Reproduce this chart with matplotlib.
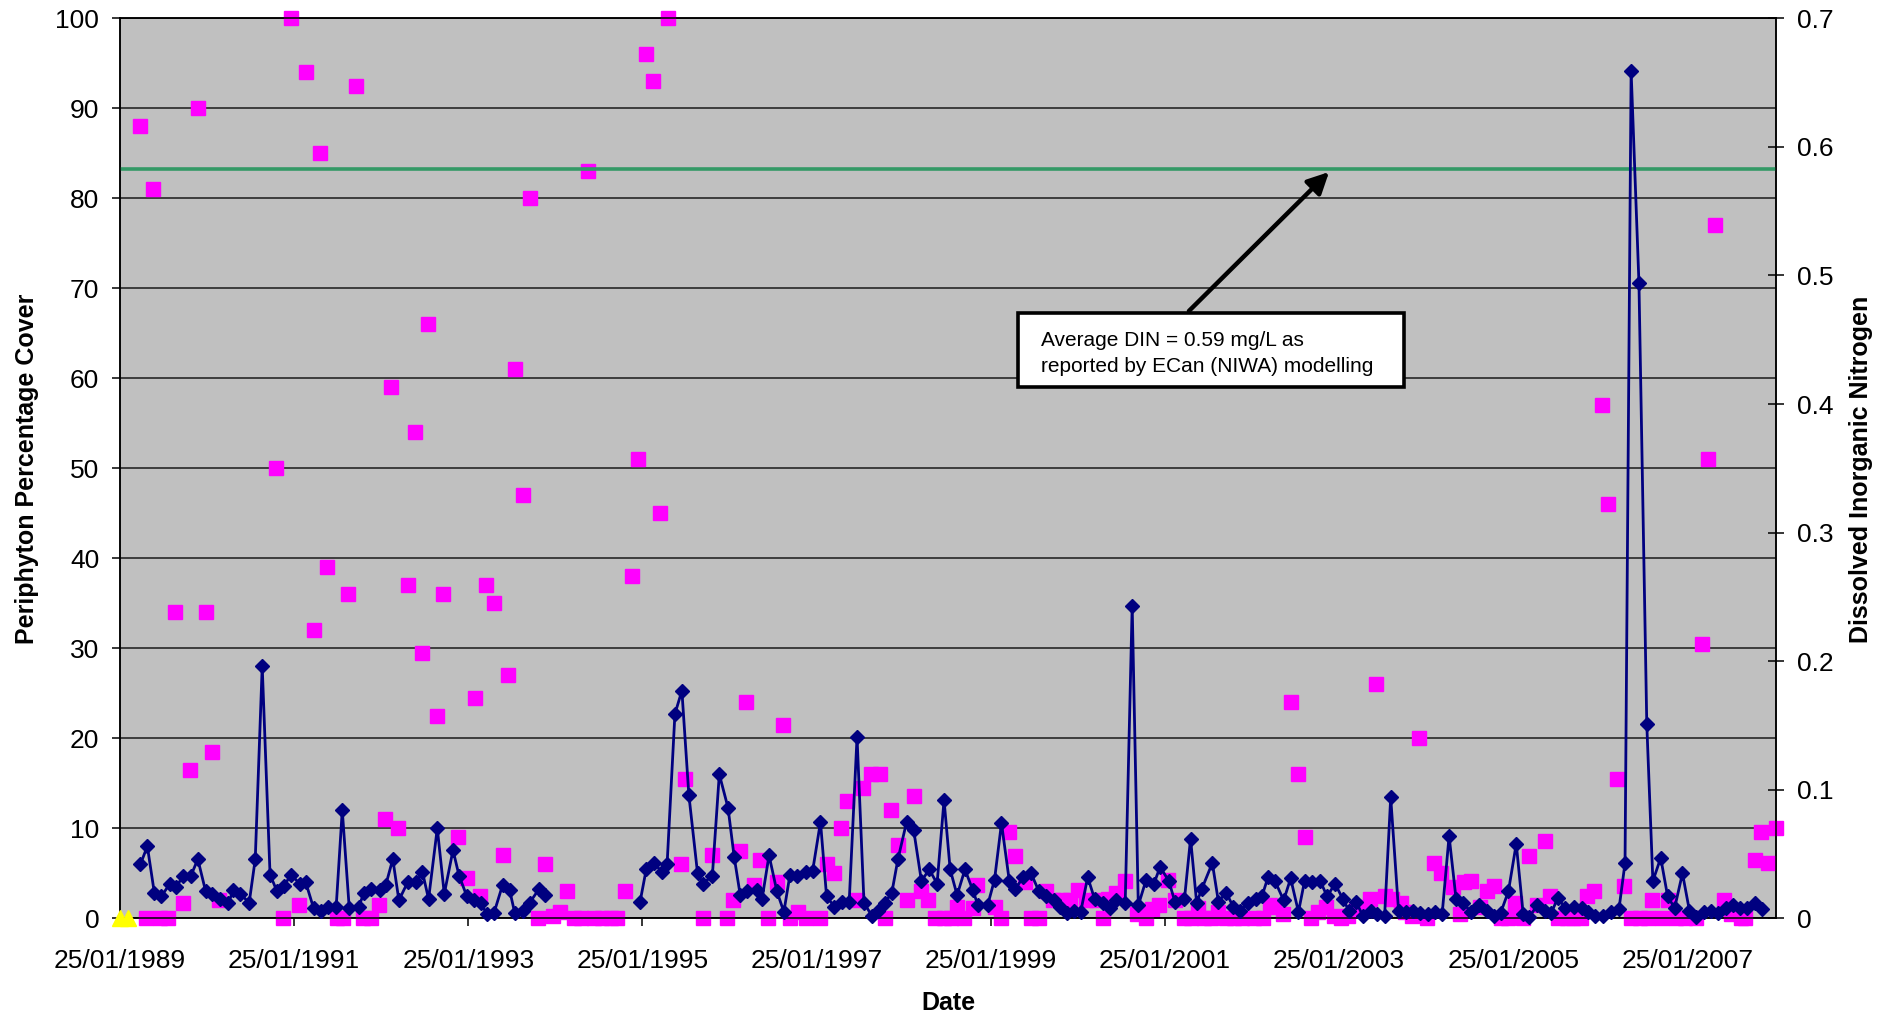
import numpy as np
import pandas as pd
import matplotlib
matplotlib.use("Agg")
import matplotlib.pyplot as plt
import matplotlib.dates as mdates
from matplotlib.patches import Rectangle
from matplotlib.ticker import FuncFormatter

plt.rcParams['font.family'] = ['Liberation Sans', 'DejaVu Sans']

# Dissolved inorganic nitrogen (mg/L), sample dates as decimal years
din_years = [
    1989.30, 1989.38, 1989.46, 1989.54, 1989.64, 1989.71, 1989.79, 1989.88, 1989.96, 1990.05,
    1990.12, 1990.21, 1990.31, 1990.37, 1990.45, 1990.55, 1990.62, 1990.70, 1990.79, 1990.87,
    1990.95, 1991.03, 1991.13, 1991.20, 1991.29, 1991.37, 1991.46, 1991.55, 1991.62, 1991.70,
    1991.81, 1991.87, 1991.95, 1992.05, 1992.12, 1992.20, 1992.27, 1992.37, 1992.47, 1992.54,
    1992.61, 1992.71, 1992.79, 1992.89, 1992.96, 1993.05, 1993.13, 1993.21, 1993.28, 1993.36,
    1993.46, 1993.54, 1993.60, 1993.69, 1993.77, 1993.88, 1993.95,
    1995.04, 1995.11, 1995.20, 1995.29, 1995.35, 1995.44, 1995.52, 1995.60, 1995.70, 1995.76,
    1995.87, 1995.95, 1996.05, 1996.12, 1996.19, 1996.27, 1996.38, 1996.44, 1996.52, 1996.61,
    1996.69, 1996.76, 1996.84, 1996.94, 1997.02, 1997.11, 1997.18, 1997.27, 1997.36, 1997.44,
    1997.53, 1997.61, 1997.70, 1997.77, 1997.85, 1997.93, 1998.00, 1998.10, 1998.18, 1998.27,
    1998.36, 1998.45, 1998.53, 1998.60, 1998.68, 1998.77, 1998.86, 1998.92, 1999.03, 1999.11,
    1999.19, 1999.28, 1999.35, 1999.44, 1999.53, 1999.62, 1999.70, 1999.79, 1999.86, 1999.94,
    2000.02, 2000.10, 2000.18, 2000.26, 2000.35, 2000.44, 2000.51, 2000.61, 2000.69, 2000.76,
    2000.85, 2000.94, 2001.01, 2001.11, 2001.18, 2001.29, 2001.36, 2001.43, 2001.49, 2001.61,
    2001.68, 2001.77, 2001.85, 2001.93, 2002.02, 2002.11, 2002.18, 2002.25, 2002.33, 2002.43,
    2002.51, 2002.60, 2002.67, 2002.75, 2002.85, 2002.93, 2003.02, 2003.11, 2003.18, 2003.26,
    2003.34, 2003.43, 2003.50, 2003.59, 2003.66, 2003.75, 2003.84, 2003.92, 2004.00, 2004.09,
    2004.17, 2004.25, 2004.33, 2004.41, 2004.49, 2004.58, 2004.67, 2004.76, 2004.84, 2004.92,
    2005.01, 2005.10, 2005.18, 2005.25, 2005.34, 2005.43, 2005.50, 2005.58, 2005.66, 2005.76,
    2005.85, 2005.92, 2006.01, 2006.10, 2006.19, 2006.28, 2006.35, 2006.42, 2006.51, 2006.60,
    2006.67, 2006.76, 2006.84, 2006.92, 2007.01, 2007.09, 2007.17, 2007.26, 2007.34, 2007.42,
    2007.51, 2007.59, 2007.67, 2007.75, 2007.84, 2007.92,
]
din_values = [
    0.042, 0.056, 0.020, 0.017, 0.027, 0.024, 0.033, 0.033, 0.046, 0.021,
    0.019, 0.015, 0.012, 0.022, 0.019, 0.012, 0.046, 0.196, 0.034, 0.021,
    0.025, 0.034, 0.027, 0.028, 0.008, 0.006, 0.009, 0.009, 0.084, 0.008,
    0.009, 0.020, 0.023, 0.022, 0.026, 0.046, 0.014, 0.028, 0.028, 0.036,
    0.015, 0.070, 0.019, 0.053, 0.033, 0.017, 0.014, 0.012, 0.003, 0.004,
    0.026, 0.022, 0.004, 0.006, 0.012, 0.023, 0.018,
    0.013, 0.038, 0.043, 0.036, 0.042, 0.159, 0.177, 0.096, 0.035, 0.027,
    0.033, 0.112, 0.086, 0.048, 0.018, 0.021, 0.022, 0.015, 0.049, 0.021,
    0.005, 0.034, 0.033, 0.036, 0.037, 0.075, 0.017, 0.009, 0.013, 0.013,
    0.141, 0.012, 0.002, 0.006, 0.012, 0.020, 0.046, 0.075, 0.069, 0.029,
    0.038, 0.027, 0.092, 0.038, 0.018, 0.038, 0.022, 0.010, 0.010, 0.030,
    0.074, 0.029, 0.023, 0.032, 0.035, 0.021, 0.017, 0.014, 0.009, 0.004,
    0.006, 0.005, 0.032, 0.015, 0.012, 0.008, 0.014, 0.012, 0.243, 0.010,
    0.030, 0.027, 0.040, 0.029, 0.013, 0.015, 0.062, 0.012, 0.023, 0.043,
    0.013, 0.020, 0.009, 0.006, 0.012, 0.015, 0.017, 0.032, 0.029, 0.014,
    0.031, 0.005, 0.029, 0.028, 0.029, 0.017, 0.027, 0.015, 0.006, 0.013,
    0.002, 0.006, 0.003, 0.002, 0.094, 0.006, 0.005, 0.006, 0.004, 0.003,
    0.005, 0.003, 0.064, 0.015, 0.012, 0.005, 0.010, 0.006, 0.002, 0.004,
    0.021, 0.058, 0.003, 0.001, 0.010, 0.006, 0.004, 0.016, 0.008, 0.009,
    0.008, 0.005, 0.002, 0.002, 0.005, 0.007, 0.043, 0.659, 0.494, 0.151,
    0.029, 0.047, 0.017, 0.008, 0.035, 0.006, 0.001, 0.005, 0.006, 0.004,
    0.008, 0.010, 0.008, 0.008, 0.012, 0.007,
]

# Periphyton percentage cover, sample dates as decimal years
peri_years = [
    1989.29, 1989.36, 1989.45, 1989.53, 1989.62, 1989.70, 1989.79, 1989.87, 1989.96, 1990.05,
    1990.12, 1990.20, 1990.86, 1990.94, 1991.03, 1991.12, 1991.20, 1991.30, 1991.36, 1991.45,
    1991.56, 1991.63, 1991.69, 1991.78, 1991.86, 1991.95, 1992.04, 1992.11, 1992.18, 1992.26,
    1992.37, 1992.46, 1992.54, 1992.60, 1992.71, 1992.78, 1992.95, 1993.05, 1993.14, 1993.20,
    1993.27, 1993.36, 1993.46, 1993.52, 1993.60, 1993.69, 1993.77, 1993.87, 1993.95, 1994.04,
    1994.12, 1994.20, 1994.28, 1994.36, 1994.44, 1994.51, 1994.60, 1994.70, 1994.78, 1994.87,
    1994.95, 1995.02, 1995.11, 1995.19, 1995.27, 1995.36, 1995.51, 1995.56, 1995.76, 1995.87,
    1996.04, 1996.11, 1996.19, 1996.26, 1996.35, 1996.42, 1996.51, 1996.61, 1996.68, 1996.76,
    1996.85, 1996.94, 1997.11, 1997.19, 1997.27, 1997.35, 1997.42, 1997.53, 1997.60, 1997.69,
    1997.79, 1997.85, 1997.92, 1998.00, 1998.10, 1998.18, 1998.27, 1998.35, 1998.43, 1998.53,
    1998.61, 1998.68, 1998.76, 1998.86, 1998.91, 1999.12, 1999.19, 1999.28, 1999.34, 1999.46,
    1999.53, 1999.62, 1999.70, 1999.78, 1999.89, 1999.98, 2000.07, 2000.16, 2000.27, 2000.36,
    2000.41, 2000.50, 2000.61, 2000.74, 2000.85, 2000.92, 2001.00, 2001.10, 2001.18, 2001.29,
    2001.37, 2001.44, 2001.52, 2001.60, 2001.68, 2001.77, 2001.86, 2001.95, 2002.09, 2002.19,
    2002.27, 2002.32, 2002.42, 2002.51, 2002.60, 2002.67, 2002.74, 2002.83, 2002.92, 2003.01,
    2003.09, 2003.17, 2003.26, 2003.34, 2003.42, 2003.49, 2003.59, 2003.68, 2003.78, 2003.83,
    2003.91, 2003.99, 2004.08, 2004.16, 2004.24, 2004.37, 2004.46, 2004.50, 2004.58, 2004.68,
    2004.76, 2004.84, 2004.92, 2005.01, 2005.09, 2005.18, 2005.25, 2005.34, 2005.43, 2005.49,
    2005.58, 2005.68, 2005.75, 2005.84, 2005.91, 2005.99, 2006.09, 2006.16, 2006.26, 2006.34,
    2006.42, 2006.52, 2006.61, 2006.66, 2006.77, 2006.84, 2006.94, 2007.04, 2007.16, 2007.24,
    2007.30, 2007.38, 2007.49, 2007.57, 2007.68, 2007.73, 2007.84, 2007.91, 2007.99, 2008.08,
]
peri_values = [
    88, 0, 81, 0, 0, 34, 1.7, 16.5, 90, 34,
    18.5, 2, 50, 0, 100, 1.5, 94, 32, 85, 39,
    0, 0, 36, 92.5, 0, 0, 1.5, 11, 59, 10,
    37, 54, 29.5, 66, 22.5, 36, 9, 4.5, 24.5, 2.5,
    37, 35, 7, 27, 61, 47, 80, 0, 6, 0.3,
    0.7, 3, 0, 0, 83, 0, 0, 0, 0, 3,
    38, 51, 96, 93, 45, 100, 6, 15.5, 0, 7,
    0, 2, 7.5, 24, 3.7, 6.5, 0, 4, 21.5, 0,
    0.7, 0, 0, 6, 5, 10, 13, 2, 14.5, 16,
    16, 0, 12, 8.2, 2, 13.6, 3, 2, 0, 0,
    0, 1.3, 0, 1.1, 3.7, 1.3, 0, 9.6, 6.9, 4,
    0, 0, 3, 2, 2, 2, 3.1, 2, 2, 0,
    2.2, 2.8, 4.1, 0.5, 0, 1, 1.5, 4.3, 2, 0,
    0, 1.1, 0, 0, 0.7, 0, 0, 0, 0, 0,
    1.5, 1.3, 0.5, 24, 16, 9, 0, 0.7, 1.3, 0.3,
    0, 0.3, 0.9, 1.3, 2.1, 26, 2.5, 2.1, 1.7, 0.7,
    0.3, 20, 0, 6.1, 5, 3.5, 0.5, 4, 4.1, 1.3,
    3, 3.6, 0, 0, 1.7, 0, 6.9, 1.5, 8.6, 2.5,
    0, 0, 0, 0, 2.5, 3, 57, 46, 15.5, 3.6,
    0, 0, 0, 2, 0, 2, 0, 0, 0, 30.5,
    51, 77, 2, 0.5, 0, 0, 6.5, 9.6, 6.1, 10,
]

# third series (two zero readings at the start)
other_years = [1989.07, 1989.16]
other_values = [0, 0]

avg_din = 0.583
tick_years = list(range(1989, 2008, 2))


def to_date(y):
    yr = int(y)
    start = pd.Timestamp(yr, 1, 1)
    return start + (pd.Timestamp(yr + 1, 1, 1) - start) * (y - yr)


din_dates = [to_date(y) for y in din_years]
peri_dates = [to_date(y) for y in peri_years]
other_dates = [to_date(y) for y in other_years]

# break the DIN line where there is a long gap in sampling
din_x, din_y = [], []
for i, (d, v) in enumerate(zip(din_dates, din_values)):
    if i > 0 and (d - din_dates[i - 1]).days > 200:
        din_x.append(din_dates[i - 1] + (d - din_dates[i - 1]) / 2)
        din_y.append(np.nan)
    din_x.append(d)
    din_y.append(v)

fig = plt.figure(figsize=(18.99, 10.19), dpi=100)
ax = fig.add_axes([120 / 1899, 1 - 918.3 / 1019, 1656 / 1899, 900 / 1019])
ax.set_facecolor('#C0C0C0')
ax2 = ax.twinx()

ax.plot(peri_dates, peri_values, ls='none', marker='s', ms=10, color='#FF00FF',
        mec='#FF00FF', clip_on=False, zorder=3)

ax2.axhline(avg_din, color='#339966', lw=2.6, zorder=2)
ax2.plot(din_x, din_y, color='#000080', lw=2, marker='D', ms=7.2, mec='#000080',
         clip_on=False, zorder=4)
ax2.plot(other_dates, other_values, ls='none', marker='^', ms=11, color='#FFFF00',
         mec='#FFFF00', clip_on=False, zorder=5)

ax.set_ylim(0, 100)
ax.set_yticks(np.arange(0, 101, 10))
ax2.set_ylim(0, 0.7)
ax2.set_yticks(np.arange(0, 0.71, 0.1))
ax2.yaxis.set_major_formatter(FuncFormatter(lambda v, p: f"{v:g}"))

ax.set_xlim(pd.Timestamp(1989, 1, 25), pd.Timestamp(2008, 2, 1))
ax.set_xticks([pd.Timestamp(y, 1, 25) for y in tick_years])
ax.xaxis.set_major_formatter(mdates.DateFormatter('%d/%m/%Y'))

ax.yaxis.grid(True, color='#1a1a1a', lw=1.1)
ax.set_axisbelow(True)

for a in (ax, ax2):
    for s in a.spines.values():
        s.set_color('black')
        s.set_linewidth(1.1)

ax.tick_params(axis='y', direction='out', length=6, width=1.1, labelsize=19, pad=9)
ax.tick_params(axis='x', direction='out', length=6, width=1.1, labelsize=19, pad=16)
ax2.tick_params(axis='y', direction='inout', length=12, width=1.1, labelsize=19, pad=9)

# annotation box with arrow to the average line
ax.annotate('', xy=(0.7313, 0.8314), xytext=(0.6443, 0.6726), xycoords='axes fraction',
            arrowprops=dict(arrowstyle='-|>', color='black', lw=3.2, mutation_scale=32),
            zorder=6)
ax2.add_patch(Rectangle((0.5423, 0.5903), 0.2331, 0.0823, transform=ax2.transAxes,
                        facecolor='white', edgecolor='black', lw=2.6, zorder=7))
ax2.text(0.556, 0.6362, 'Average DIN = 0.59 mg/L as', transform=ax2.transAxes,
         fontsize=15, va='baseline', ha='left', zorder=8)
ax2.text(0.556, 0.6073, 'reported by ECan (NIWA) modelling', transform=ax2.transAxes,
         fontsize=15, va='baseline', ha='left', zorder=8)

fig.text(27 / 1899, 1 - 469 / 1019, 'Periphyton Percentage Cover', rotation=90,
         ha='center', va='center', fontsize=18, fontweight='bold')
fig.text(1861 / 1899, 1 - 469 / 1019, 'Dissolved Inorganic Nitrogen', rotation=90,
         ha='center', va='center', fontsize=18, fontweight='bold')
fig.text(948 / 1899, 1 - 1003 / 1019, 'Date', ha='center', va='center',
         fontsize=18, fontweight='bold')

fig.savefig('out.png', dpi=100, facecolor='white')
